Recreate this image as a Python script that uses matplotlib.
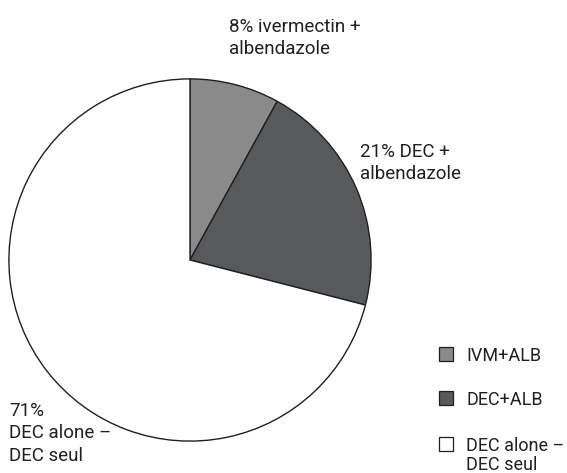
import matplotlib
matplotlib.use("Agg")
import matplotlib.pyplot as plt
from matplotlib.patches import Rectangle

categories = ["IVM+ALB", "DEC+ALB", "DEC alone –\nDEC seul"]
values = [8, 21, 71]
slice_labels = ["8% ivermectin +\nalbendazole", "21% DEC +\nalbendazole", "71%\nDEC alone –\nDEC seul"]
colors = ["#8a8a8a", "#58595b", "#ffffff"]

plt.rcParams['font.family'] = ['Roboto', 'DejaVu Sans']
txt_color = "#231f20"

W, H = 567, 473
fig = plt.figure(figsize=(W/100, H/100), dpi=100)
cx, cy, r = 190, 260, 182
ax = fig.add_axes([(cx - r)/W, (H - cy - r)/H, 2*r/W, 2*r/H])
wedges, _ = ax.pie(values, colors=colors, startangle=90, counterclock=False,
                   radius=1, wedgeprops=dict(edgecolor="#231f20", linewidth=1.0))
ax.set_xlim(-1.005, 1.005)
ax.set_ylim(-1.005, 1.005)
ax.set_aspect('equal')
ax.axis('off')

fs = 13.5
asc = 13.8  # px from top of text box to first baseline

# first-line baselines (pixels from top)
pos = [(229, 32), (360, 157), (9, 416)]
for (x, y), lab in zip(pos, slice_labels):
    fig.text(x/W, 1 - (y - asc)/H, lab, ha='left', va='top', fontsize=fs,
             color=txt_color, linespacing=1.3)

# legend
lfs = 13
lasc = 13.3
sq_top = [347, 391, 437]
for top, lab, c in zip(sq_top, categories, colors):
    fig.add_artist(Rectangle((439/W, 1 - (top + 14)/H), 14/W, 14/H,
                             transform=fig.transFigure, facecolor=c,
                             edgecolor="#231f20", linewidth=0.9))
    fig.text(466/W, 1 - (top + 13.5 - lasc)/H, lab, ha='left', va='top',
             fontsize=lfs, color=txt_color, linespacing=1.08)

fig.savefig("out.png", dpi=100)
